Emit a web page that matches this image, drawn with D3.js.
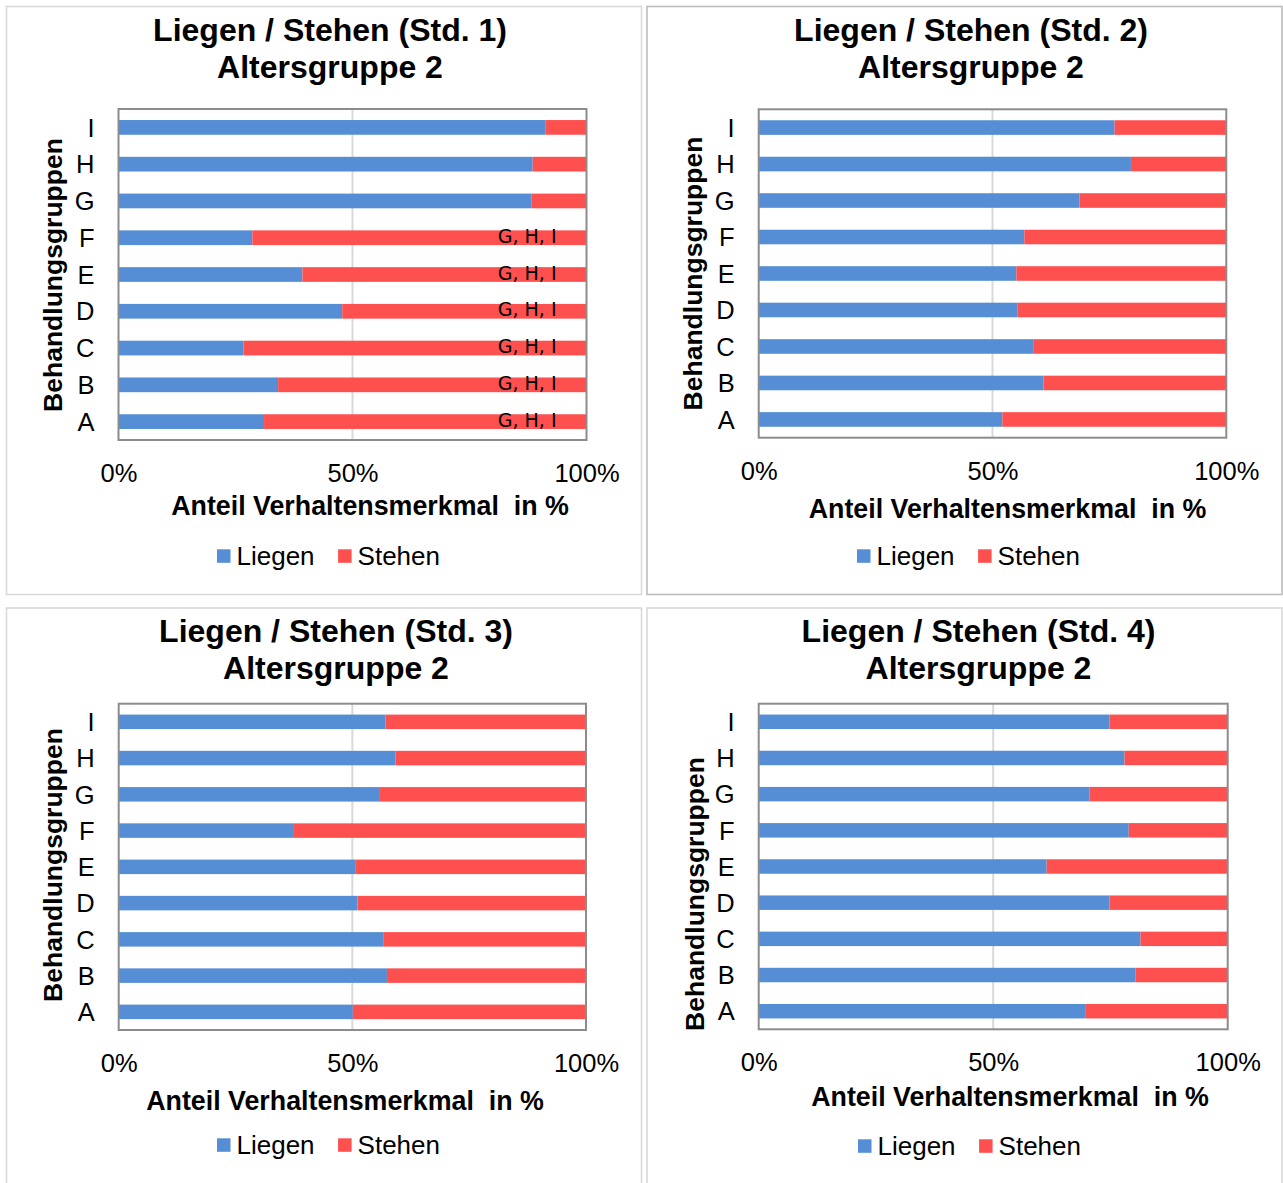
<!DOCTYPE html>
<html>
<head>
<meta charset="utf-8">
<script src="https://cdn.jsdelivr.net/npm/d3@7"></script>
<style>
  html, body { margin: 0; padding: 0; background: #fff; }
  svg { display: block; }
</style>
</head>
<body>
<svg id="chart" width="1283" height="1183"></svg>
<script>
// Treatment groups (bottom to top: A ... I)
const categories = ["A", "B", "C", "D", "E", "F", "G", "H", "I"];
const seriesNames = ["Liegen", "Stehen"];

// Share of lying / standing per group, hour 1 to hour 4 (percent)
const liegenStd1 = [31.1, 34.1, 26.7, 47.8, 39.3, 28.6, 88.3, 88.5, 91.3];
const stehenStd1 = [68.9, 65.9, 73.3, 52.2, 60.7, 71.4, 11.7, 11.5, 8.7];
const liegenStd2 = [52.1, 60.9, 58.7, 55.3, 55.1, 56.8, 68.6, 79.6, 76.1];
const stehenStd2 = [47.9, 39.1, 41.3, 44.7, 44.9, 43.2, 31.4, 20.4, 23.9];
const liegenStd3 = [50.1, 57.4, 56.6, 51.1, 50.6, 37.5, 55.9, 59.2, 57.1];
const stehenStd3 = [49.9, 42.6, 43.4, 48.9, 49.4, 62.5, 44.1, 40.8, 42.9];
const liegenStd4 = [69.6, 80.3, 81.4, 74.8, 61.4, 78.9, 70.5, 78.0, 74.8];
const stehenStd4 = [30.4, 19.7, 18.6, 25.2, 38.6, 21.1, 29.5, 22.0, 25.2];

// Significance notes shown on the Stehen bars (hour 1 only)
const sigStd1 = ["G, H, I", "G, H, I", "G, H, I", "G, H, I", "G, H, I", "G, H, I", "", "", ""];
const sigNone = ["", "", "", "", "", "", "", "", ""];

const titlesLine1 = ["Liegen / Stehen (Std. 1)", "Liegen / Stehen (Std. 2)",
                     "Liegen / Stehen (Std. 3)", "Liegen / Stehen (Std. 4)"];
const titleLine2 = "Altersgruppe 2";
const xAxisTitle = "Anteil Verhaltensmerkmal  in %";
const yAxisTitle = "Behandlungsgruppen";
const xTickValues = [0, 0.5, 1];

const liegenAll = [liegenStd1, liegenStd2, liegenStd3, liegenStd4];
const stehenAll = [stehenStd1, stehenStd2, stehenStd3, stehenStd4];
const sigAll = [sigStd1, sigNone, sigNone, sigNone];

// Panel geometry
const layout = [
  { box: [6.5, 6.5, 635, 588], border: "#d9d9d9", plot: [118.5, 109, 586.5, 440],
    titleX: 330, titleY: 41, xTitleX: 370, xTitleY: 515, legendX: 217, legendY: 556,
    yTitleX: 61.5, yTitleY: 275 },
  { box: [647, 6.5, 635, 588], border: "#bcbcbc", plot: [758.7, 109.3, 1226.3, 437.7],
    titleX: 971, titleY: 41, xTitleX: 1007.5, xTitleY: 518, legendX: 857, legendY: 556,
    yTitleX: 702, yTitleY: 273.5 },
  { box: [6.5, 608, 635, 600], border: "#d9d9d9", plot: [118.7, 703.7, 586, 1030],
    titleX: 336, titleY: 642, xTitleX: 345, xTitleY: 1110, legendX: 217, legendY: 1145,
    yTitleX: 61.5, yTitleY: 865 },
  { box: [647, 608, 635, 600], border: "#d9d9d9", plot: [758.7, 703.7, 1227.7, 1029.3],
    titleX: 978.5, titleY: 642, xTitleX: 1010, xTitleY: 1106, legendX: 858, legendY: 1146,
    yTitleX: 704, yTitleY: 894 }
];

const colors = { Liegen: "#558ed5", Stehen: "#ff5050" };
const sans = "'Liberation Sans', Arial, Helvetica, sans-serif";

const svg = d3.select("#chart");

layout.forEach((L, i) => {
  const g = svg.append("g");
  const [px0, py0, px1, py1] = L.plot;

  // chart frame
  g.append("rect")
    .attr("x", L.box[0]).attr("y", L.box[1])
    .attr("width", L.box[2]).attr("height", L.box[3])
    .attr("fill", "#fff").attr("stroke", L.border).attr("stroke-width", 1.6);

  // title
  const t = g.append("text")
    .attr("x", L.titleX).attr("y", L.titleY)
    .attr("text-anchor", "middle")
    .style("font-family", sans).style("font-weight", "bold")
    .style("font-size", "32px").attr("fill", "#000");
  t.append("tspan").attr("x", L.titleX).attr("dy", 0).text(titlesLine1[i]);
  t.append("tspan").attr("x", L.titleX).attr("dy", 37).text(titleLine2);

  const x = d3.scaleLinear().domain([0, 1]).range([px0, px1]);
  const y = d3.scaleBand()
    .domain(categories.slice().reverse())
    .range([py0, py1])
    .paddingInner(0.6).paddingOuter(0.3);

  // 50% gridline
  g.append("g").selectAll("line")
    .data(xTickValues.filter(v => v > 0 && v < 1))
    .join("line")
    .attr("x1", d => x(d)).attr("x2", d => x(d))
    .attr("y1", py0).attr("y2", py1)
    .attr("stroke", "#d9d9d9").attr("stroke-width", 2);

  // 100% stacked bars
  const rows = categories.map((c, k) => ({
    cat: c, Liegen: liegenAll[i][k], Stehen: stehenAll[i][k], sig: sigAll[i][k]
  }));
  const stacked = d3.stack().keys(seriesNames).offset(d3.stackOffsetExpand)(rows);

  g.append("g").selectAll("g")
    .data(stacked)
    .join("g")
    .attr("fill", s => colors[s.key])
    .selectAll("rect")
    .data(s => s)
    .join("rect")
    .attr("x", d => x(d[0]))
    .attr("width", d => x(d[1]) - x(d[0]))
    .attr("y", d => y(d.data.cat))
    .attr("height", y.bandwidth());

  // significance notes
  g.append("g").selectAll("text")
    .data(rows.filter(r => r.sig))
    .join("text")
    .attr("x", x(1) - 30)
    .attr("y", d => y(d.cat) + y.bandwidth() / 2 + 5)
    .attr("text-anchor", "end")
    .style("font-family", "'DejaVu Sans', sans-serif")
    .style("font-size", "19px")
    .attr("fill", "#000")
    .text(d => d.sig);

  // plot-area border
  g.append("rect")
    .attr("x", px0).attr("y", py0)
    .attr("width", px1 - px0).attr("height", py1 - py0)
    .attr("fill", "none").attr("stroke", "#8c8c8c").attr("stroke-width", 2);

  // category axis
  const yAxis = g.append("g")
    .attr("transform", `translate(${px0},0)`)
    .call(d3.axisLeft(y).tickSize(0).tickPadding(24));
  yAxis.select(".domain").remove();
  yAxis.selectAll("text")
    .style("font-family", sans).style("font-size", "25.5px")
    .attr("fill", "#000").attr("dy", "0.36em");

  // value axis
  const xAxis = g.append("g")
    .attr("transform", `translate(0,${py1})`)
    .call(d3.axisBottom(x).tickValues(xTickValues).tickFormat(d3.format(".0%")).tickSize(0).tickPadding(0));
  xAxis.select(".domain").remove();
  xAxis.selectAll("text")
    .style("font-family", sans).style("font-size", "25.5px")
    .attr("fill", "#000").attr("y", 42).attr("dy", 0);

  // axis titles
  g.append("text")
    .attr("x", L.xTitleX).attr("y", L.xTitleY)
    .attr("text-anchor", "middle")
    .style("font-family", sans).style("font-weight", "bold").style("font-size", "26.8px")
    .style("white-space", "pre").attr("xml:space", "preserve")
    .attr("fill", "#000")
    .text(xAxisTitle);

  g.append("text")
    .attr("transform", `translate(${L.yTitleX},${L.yTitleY}) rotate(-90)`)
    .attr("text-anchor", "middle")
    .style("font-family", sans).style("font-weight", "bold").style("font-size", "26.5px")
    .attr("fill", "#000")
    .text(yAxisTitle);

  // legend
  const lg = g.append("g").attr("transform", `translate(${L.legendX},${L.legendY})`);
  let cx = 0;
  seriesNames.forEach(name => {
    lg.append("rect")
      .attr("x", cx).attr("y", -6.7)
      .attr("width", 13.5).attr("height", 13.5)
      .attr("fill", colors[name]);
    const txt = lg.append("text")
      .attr("x", cx + 19.5).attr("y", 8.5)
      .style("font-family", sans).style("font-size", "26px")
      .attr("fill", "#000")
      .text(name);
    cx += 19.5 + txt.node().getComputedTextLength() + 23.5;
  });
});
</script>
</body>
</html>
